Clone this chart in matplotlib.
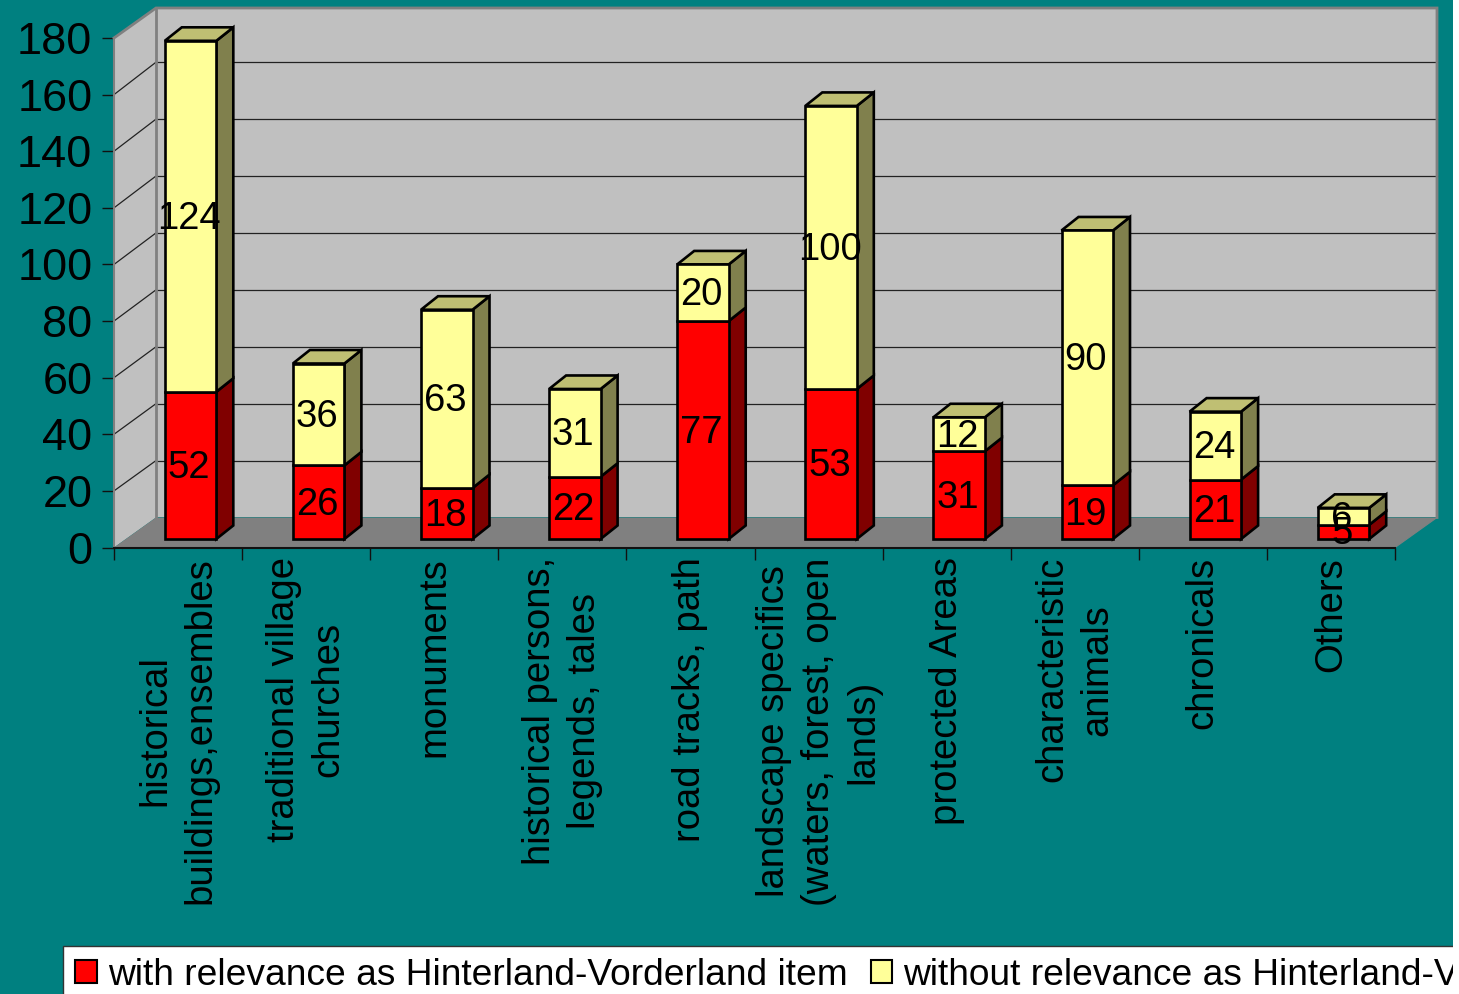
import matplotlib
matplotlib.use('Agg')
import matplotlib.pyplot as plt
from matplotlib.patches import Polygon, Rectangle
from matplotlib.transforms import Bbox

plt.rcParams['font.family'] = ['Liberation Sans', 'DejaVu Sans']

# Values
categories = ['historical\nbuildings,ensembles', 'traditional village\nchurches', 'monuments',
              'historical persons,\nlegends, tales', 'road tracks, path',
              'landscape specifics\n(waters, forest, open\nlands)', 'protected Areas',
              'characteristic\nanimals', 'chronicals', 'Others']
withRelevance = [52, 26, 18, 22, 77, 53, 31, 19, 21, 5]
withoutRelevance = [124, 36, 63, 31, 20, 100, 12, 90, 24, 6]
yTicks = [0, 20, 40, 60, 80, 100, 120, 140, 160, 180]
seriesNames = ['with relevance as Hinterland-Vorderland item', 'without relevance as Hinterland-Vorderland item']

W, H = 1459, 994
TEAL = '#008080'

fig = plt.figure(figsize=(W / 100, H / 100), dpi=100, facecolor='white')

# teal background stops a few pixels short of the right edge
fig.add_artist(Rectangle((0, 0), 1453 / W, 1, transform=fig.transFigure, facecolor=TEAL, edgecolor='none', zorder=-5))

ax = fig.add_axes([114 / W, (H - 547.5) / H, 1281 / W, 509.5 / H])
ax.set_xlim(0, 10)
ax.set_ylim(0, 180)
ax.patch.set_visible(False)

# size of the 3D box, in data units
depthX = 42 / 128.1
depthY = 30 / 2.83
backScale = 2.845 / 2.83    # back wall grid runs a touch wider than the front ticks


def poly(points, face, edge='none', lw=0, z=1):
    ax.add_patch(Polygon(points, closed=True, facecolor=face, edgecolor=edge, linewidth=lw,
                         zorder=z, clip_on=False, joinstyle='miter'))


# walls and floor
top = 180 + depthY
poly([(depthX, depthY), (10 + depthX, depthY), (10 + depthX, top), (depthX, top)], '#c0c0c0')
poly([(0, 0), (depthX, depthY), (depthX, top), (0, 180)], '#c0c0c0')
poly([(0, 0), (10, 0), (10 + depthX, depthY), (depthX, depthY)], '#808080')

for t in yTicks[1:-1]:
    yBack = t * backScale + depthY
    ax.plot([depthX, 10 + depthX], [yBack, yBack], color='#222222', lw=0.9, zorder=2, clip_on=False)
    ax.plot([0, depthX], [t, yBack], color='#222222', lw=0.9, zorder=2, clip_on=False)

edgeGray = '#808080'
ax.plot([0, depthX, 10 + depthX, 10 + depthX], [180, top, top, depthY], color=edgeGray, lw=2, zorder=2,
        clip_on=False, solid_joinstyle='miter')
ax.plot([10 + depthX, 10], [depthY, 0], color=edgeGray, lw=0.8, zorder=2, clip_on=False)
ax.plot([depthX, depthX], [depthY, top], color=edgeGray, lw=2, zorder=2, clip_on=False)

# bars
barW = 51.5 / 128.1
barDX = 17 / 128.1
barDY = 13.5 / 2.83
liftX = 12.5 / 128.1
liftY = 8.5 / 2.83
edgeW = 1.9

for i in range(len(categories)):
    x0 = i + 0.5 + liftX - barW / 2
    x1 = x0 + barW
    y0 = liftY
    y1 = y0 + withRelevance[i]
    y2 = y1 + withoutRelevance[i]
    # sides
    poly([(x1, y0), (x1 + barDX, y0 + barDY), (x1 + barDX, y1 + barDY), (x1, y1)], '#800000', 'black', edgeW, 3)
    poly([(x1, y1), (x1 + barDX, y1 + barDY), (x1 + barDX, y2 + barDY), (x1, y2)], '#80804d', 'black', edgeW, 3)
    # top
    poly([(x0, y2), (x1, y2), (x1 + barDX, y2 + barDY), (x0 + barDX, y2 + barDY)], '#bfbf73', 'black', edgeW, 3)

xPos = [i + 0.5 + liftX for i in range(len(categories))]
bottoms = [liftY] * len(categories)
tops = [liftY + v for v in withRelevance]
redBars = ax.bar(xPos, withRelevance, barW, bottom=bottoms, color='#ff0000', edgecolor='black', linewidth=edgeW,
                 zorder=4, clip_on=False, label=seriesNames[0])
yellowBars = ax.bar(xPos, withoutRelevance, barW, bottom=tops, color='#ffff99', edgecolor='black', linewidth=edgeW,
                    zorder=4, clip_on=False, label=seriesNames[1])

# data labels, nudged a little left and down like the original
labelDX = -1.5 / 128.1
labelDY = -2.5 / 2.83
for i in range(len(categories)):
    ax.text(xPos[i] + labelDX, bottoms[i] + withRelevance[i] / 2 + labelDY, str(withRelevance[i]), ha='center',
            va='center', fontsize=27.5, zorder=6, clip_on=False)
    ax.text(xPos[i] + labelDX, tops[i] + withoutRelevance[i] / 2 + labelDY, str(withoutRelevance[i]), ha='center',
            va='center', fontsize=27.5, zorder=6, clip_on=False)

ax.set_ylim(0, 180)
ax.set_xlim(0, 10)

# axes
for s in ['top', 'right']:
    ax.spines[s].set_visible(False)
ax.spines['left'].set_color(edgeGray)
ax.spines['left'].set_linewidth(1.5)
ax.spines['bottom'].set_color('#111111')
ax.spines['bottom'].set_linewidth(1.5)
ax.spines['bottom'].set_zorder(5)

ax.set_yticks(yTicks)
ax.tick_params(axis='y', length=8.6, width=1, pad=7, labelsize=32.5, color='#111111')
ax.set_xticks(range(11))
ax.set_xticklabels([])
ax.tick_params(axis='x', which='major', length=8.6, width=1, color='#111111')
ax.set_xticks([i + 0.5 for i in range(10)], minor=True)
ax.set_xticklabels(categories, minor=True, rotation=90, ha='center', va='top', multialignment='center',
                   fontsize=27.5, linespacing=1.32)
ax.tick_params(axis='x', which='minor', length=0, pad=7)

# legend is cut off by the picture edge in the original
leg = fig.legend(handles=[redBars, yellowBars], loc='lower left', bbox_to_anchor=(63 / W, -11 / H), ncol=2,
                 fontsize=26.7, frameon=True, fancybox=False, edgecolor='#333333', facecolor='white', framealpha=1,
                 borderaxespad=0, borderpad=0.33, handlelength=0.58, handleheight=0.58, handletextpad=0.3,
                 columnspacing=0.62)
leg.get_frame().set_linewidth(1)
clip = Bbox([[0, 0], [1453, H]])
leg.get_frame().set_clip_box(clip)
leg.get_frame().set_clip_on(True)
for t in leg.get_texts():
    t.set_clip_box(clip)
    t.set_clip_on(True)
for h in leg.legend_handles:
    h.set_edgecolor('black')
    h.set_linewidth(1.5)

fig.savefig('out.png', dpi=100, facecolor=fig.get_facecolor())
